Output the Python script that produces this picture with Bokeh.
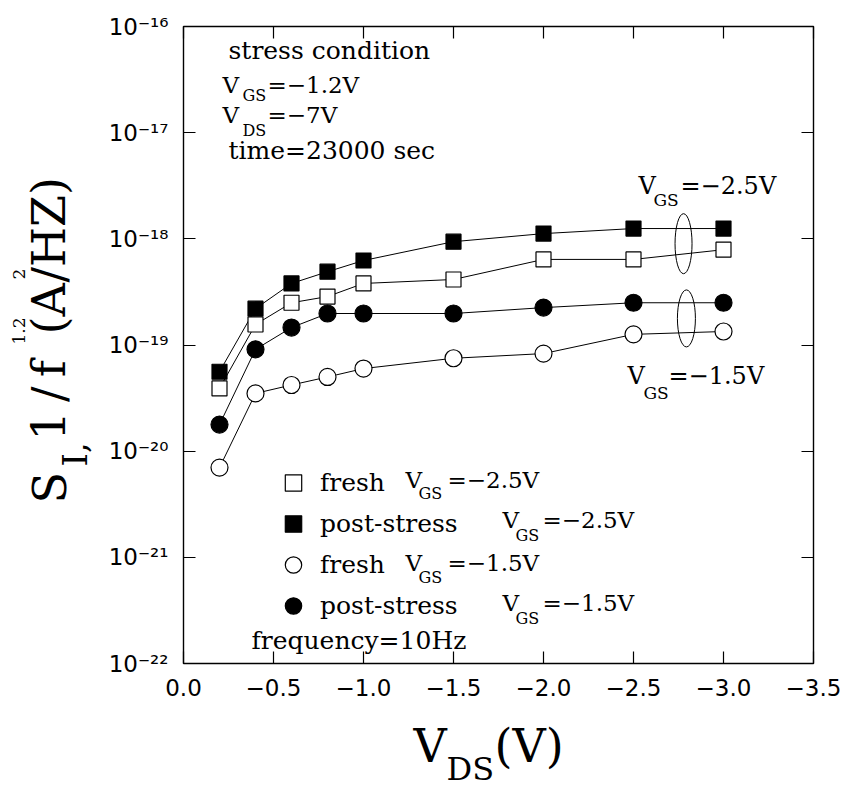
import math

from bokeh.embed import file_html
from bokeh.layouts import column, row
from bokeh.models import (ColumnDataSource, CustomJSTickFormatter, FixedTicker,
                          Label, Legend, LegendItem, LinearAxis, LogAxis, Range1d)
from bokeh.plotting import figure
from bokeh.resources import INLINE

# Drain voltage sweep (V) and noise level at 10 Hz, S_I * f^1.2 (A^2/Hz)
vds = [-0.2, -0.4, -0.6, -0.8, -1.0, -1.5, -2.0, -2.5, -3.0]
fresh_vgs25 = [3.9e-20, 1.56e-19, 2.5e-19, 2.86e-19, 3.8e-19, 4.14e-19, 6.4e-19, 6.4e-19, 7.9e-19]
post_vgs25 = [5.6e-20, 2.2e-19, 3.8e-19, 4.9e-19, 6.25e-19, 9.4e-19, 1.12e-18, 1.25e-18, 1.25e-18]
fresh_vgs15 = [7.0e-21, 3.5e-20, 4.2e-20, 5.0e-20, 6.0e-20, 7.5e-20, 8.3e-20, 1.26e-19, 1.34e-19]
post_vgs15 = [1.78e-20, 9.1e-20, 1.46e-19, 1.98e-19, 1.98e-19, 1.98e-19, 2.25e-19, 2.5e-19, 2.5e-19]

x_ticks = [0.0, -0.5, -1.0, -1.5, -2.0, -2.5, -3.0, -3.5]
y_ticks = [1e-22, 1e-21, 1e-20, 1e-19, 1e-18, 1e-17, 1e-16]

W, H = 846, 787
YTITLE_W = 98           # strip on the left holding the rotated y title
MAIN_H = 708            # height of the plot row; the x title strip sits below
LEFT, RIGHT, TOP, BOTTOM = 183, 813, 26, 663
SERIF = "DejaVu Serif"
SANS = "DejaVu Sans"
# offset (in ems) between a Label anchor and the glyph baseline as drawn
DROP_FLAT = 0.33
DROP_UP = 0.39

p = figure(width=W - YTITLE_W, height=MAIN_H, title=None,
           x_range=Range1d(0, -3.5), y_range=Range1d(1e-22, 1e-16),
           y_axis_type="log", output_backend="svg", toolbar_location=None,
           min_border_left=LEFT - YTITLE_W, min_border_right=W - RIGHT,
           min_border_top=TOP, min_border_bottom=MAIN_H - BOTTOM,
           background_fill_color="white", border_fill_color="white")
p.grid.visible = False
p.outline_line_color = "black"
p.outline_line_width = 1.4

xticker = FixedTicker(ticks=x_ticks, minor_ticks=[])
yticker = FixedTicker(ticks=y_ticks, minor_ticks=[])

xfmt = CustomJSTickFormatter(code="""
const s = Math.abs(tick).toFixed(1);
return tick < 0 ? "\u2212" + s : s;
""")
yfmt = CustomJSTickFormatter(code="""
const sup = {"-": "\u207b", "0": "\u2070", "1": "\u00b9", "2": "\u00b2", "3": "\u00b3",
             "4": "\u2074", "5": "\u2075", "6": "\u2076", "7": "\u2077", "8": "\u2078", "9": "\u2079"};
const e = Math.round(Math.log10(tick));
return "10" + String(e).split("").map(c => sup[c]).join("");
""")
blank = CustomJSTickFormatter(code='return "";')


def style_axis(ax, ticker, size):
    ax.ticker = ticker
    ax.axis_line_color = None
    ax.major_tick_in = 12
    ax.major_tick_out = 0
    ax.minor_tick_in = 0
    ax.minor_tick_out = 0
    ax.major_tick_line_color = "black"
    ax.major_tick_line_width = 1.2
    ax.axis_label = None
    ax.major_label_text_font = SANS
    ax.major_label_text_font_size = size
    ax.major_label_text_color = "black"


style_axis(p.xaxis[0], xticker, "23px")
p.xaxis[0].formatter = xfmt
p.xaxis[0].major_label_standoff = 15
style_axis(p.yaxis[0], yticker, "23px")
p.yaxis[0].formatter = yfmt
p.yaxis[0].major_label_standoff = 15

# tick marks only on the top and right edges of the frame
top_axis = LinearAxis()
style_axis(top_axis, xticker, "21px")
top_axis.formatter = blank
top_axis.major_label_standoff = 0
p.add_layout(top_axis, "above")
right_axis = LogAxis()
style_axis(right_axis, yticker, "21px")
right_axis.formatter = blank
right_axis.major_label_standoff = 0
p.add_layout(right_axis, "right")

src = ColumnDataSource(dict(vds=vds, fresh25=fresh_vgs25, post25=post_vgs25,
                            fresh15=fresh_vgs15, post15=post_vgs15))

series = [
    ("fresh25", "square", "white", 15),
    ("post25", "square", "black", 15),
    ("fresh15", "circle", "white", 17),
    ("post15", "circle", "black", 17),
]
marks = {}
for col, marker, fill, size in series:
    p.line("vds", col, source=src, line_color="black", line_width=1)
for col, marker, fill, size in series:
    marks[col] = p.scatter("vds", col, source=src, marker=marker, size=size,
                           fill_color=fill, line_color="black", line_width=1.2)

# ellipses grouping the two gate-bias families at the right end
p.ellipse(x=[-2.778, -2.794], y=[9.0e-19, 1.78e-19], width=[17, 18], height=[60, 57],
          width_units="screen", height_units="screen",
          fill_color=None, line_color="black", line_width=1)

legend = Legend(items=[
    LegendItem(label="fresh", renderers=[marks["fresh25"]]),
    LegendItem(label="post-stress", renderers=[marks["post25"]]),
    LegendItem(label="fresh", renderers=[marks["fresh15"]]),
    LegendItem(label="post-stress", renderers=[marks["post15"]]),
], location=(85, 37), glyph_width=50, glyph_height=41, spacing=0,
    padding=0, margin=0, label_standoff=2, label_height=41,
    label_text_font=SERIF, label_text_font_size="25px", label_text_color="black",
    border_line_color=None, background_fill_alpha=0)
p.add_layout(legend)


def put(text, cx, cy, size, angle=0.0, fig=None):
    """Place text so that its baseline starts at page pixel (cx, cy)."""
    if angle:
        cx -= DROP_UP * size
    else:
        cy -= DROP_FLAT * size
    if fig is None:
        lab = Label(x=cx - LEFT, y=BOTTOM - cy, x_units="screen", y_units="screen")
        target = p
    else:
        target, x0, y0 = fig
        lab = Label(x=cx - x0, y=cy - y0)
    lab.update(text=text, text_font=SERIF, text_font_size=f"{size}px",
               text_color="black", text_align="left",
               text_baseline="alphabetic", angle=angle)
    target.add_layout(lab)


def vgs(cx, cy, sub_dx, sub_dy, rest_dx, rest, sub="GS", size=23, sub_size=16):
    put("V", cx, cy, size)
    put(sub, cx + sub_dx, cy + sub_dy, sub_size)
    put(rest, cx + rest_dx, cy, size)


# stress condition block
put("stress condition", 228, 58, 25)
vgs(222, 92, 20, 8, 45, "=\u22121.2V")
vgs(222, 122, 20, 13, 45, "=\u22127V", sub="DS")
put("time=23000 sec", 228, 158, 25)

# gate-bias tags beside the ellipses
vgs(638, 193, 15, 12, 42, "=\u22122.5V", size=24, sub_size=17)
vgs(627, 383, 16, 15, 41, "=\u22121.5V", size=24, sub_size=17)

# gate-bias part of the legend entries
vgs(405, 487, 13, 11, 42, "=\u22122.5V")
vgs(502, 527, 13, 13, 40, "=\u22122.5V")
vgs(405, 570, 13, 12, 42, "=\u22121.5V")
vgs(502, 610, 13, 13, 40, "=\u22121.5V")
put("frequency=10Hz", 251, 648, 25)


def title_strip(width, height, y_top, y_bottom):
    """Blank figure whose data units equal page pixels, y growing downward."""
    f = figure(width=width, height=height, title=None,
               x_range=Range1d(0, width), y_range=Range1d(y_bottom, y_top),
               x_axis_location=None, y_axis_location=None,
               output_backend="svg", toolbar_location=None, min_border=0,
               min_border_top=y_top, min_border_bottom=height - y_bottom,
               background_fill_color="white", border_fill_color="white")
    f.grid.visible = False
    f.outline_line_color = None
    return f


# the left strip shares the plot frame's vertical extent
ytitle = title_strip(YTITLE_W, MAIN_H, TOP, BOTTOM)
xtitle = title_strip(W, H - MAIN_H, 0, H - MAIN_H)
yt = (ytitle, 0, 0)
xt = (xtitle, 0, MAIN_H)

# x axis title: V_DS(V)
put("V", 413, 761, 46, fig=xt)
put("DS", 446, 779, 32, fig=xt)
put("(V)", 494, 761, 46, fig=xt)

# y axis title: S_I, 1/f^1.2 (A^2/HZ), reading bottom to top
up = math.pi / 2
put("S", 67, 503, 46, angle=up, fig=yt)
put("I,", 88, 466, 34, angle=up, fig=yt)
put("1\u2009/\u2009f", 66, 440, 46, angle=up, fig=yt)
put("1.2", 25, 344, 17, angle=up, fig=yt)
put("(A", 66, 334, 46, angle=up, fig=yt)
put("2", 25, 279, 17, angle=up, fig=yt)
put("/HZ)", 66, 282, 46, angle=up, fig=yt)

page = column(row(ytitle, p, spacing=0), xtitle, spacing=0)
open("out.html", "w").write(file_html(page, INLINE))
